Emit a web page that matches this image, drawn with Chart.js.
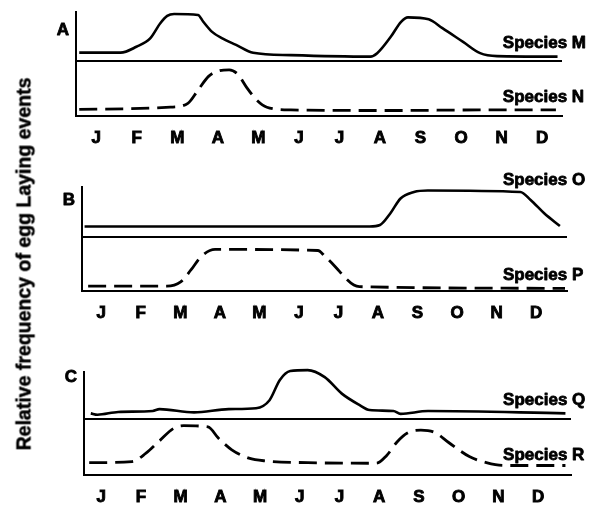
<!DOCTYPE html>
<html>
<head>
<meta charset="utf-8">
<script src="https://cdn.jsdelivr.net/npm/chart.js@4"></script>
<style>
  body { margin: 0; background: #fff; }
  #wrap { position: relative; width: 589px; height: 506px; overflow: hidden; }
  canvas { position: absolute; left: 0; top: 0; }
  #ytitle {
    position: absolute; left: 24px; top: 264px;
    transform: translate(-50%, -50%) rotate(-90deg);
    white-space: nowrap;
    font: bold 19.5px "Liberation Sans", Arial, sans-serif;
    -webkit-text-stroke: 0.5px #000;
    color: #000;
  }
</style>
</head>
<body>
<div id="wrap">
  <canvas id="panelA" width="589" height="506"></canvas>
  <canvas id="panelB" width="589" height="506"></canvas>
  <canvas id="panelC" width="589" height="506"></canvas>
  <div id="ytitle">Relative frequency of egg Laying events</div>
</div>
<script>
const months = ["J", "F", "M", "A", "M", "J", "J", "A", "S", "O", "N", "D"];

// [month (J = 1 ... D = 12), relative frequency of egg laying]
const speciesM = [[0.58, 1.7], [1.6, 1.7], [1.99, 2.9], [2.33, 4.6], [2.58, 7.7], [2.75, 9.2], [2.92, 9.6],
  [3.51, 9.4], [3.64, 8.0], [3.85, 6.0], [4.11, 4.6], [4.45, 3.3], [4.87, 1.7], [5.8, 1.2], [7.76, 0.9],
  [7.93, 1.6], [8.27, 5.0], [8.52, 8.0], [8.69, 8.9], [9.2, 8.5], [9.54, 6.7], [10.05, 3.9], [10.47, 1.6],
  [10.89, 1.0], [12.38, 0.9]];
const speciesN = [[0.58, 1.2], [2.83, 1.6], [3.26, 2.3], [3.51, 4.7], [3.77, 7.2], [4.02, 8.2], [4.28, 8.4],
  [4.49, 7.6], [4.7, 5.3], [4.96, 2.9], [5.21, 1.6], [5.8, 1.1], [8.35, 1.0], [10.47, 1.1], [12.34, 1.1]];
const speciesO = [[0.58, 2.1], [7.79, 2.1], [8.05, 2.4], [8.31, 4.7], [8.57, 7.7], [8.91, 9.0], [9.26, 9.3],
  [11.6, 9.0], [11.86, 7.4], [12.21, 4.7], [12.6, 2.2]];
const speciesP = [[0.67, 0.9], [2.66, 0.9], [3.01, 1.7], [3.27, 3.9], [3.53, 6.4], [3.88, 7.7], [6.48, 7.5],
  [6.66, 6.4], [6.92, 4.5], [7.18, 2.4], [7.39, 1.1], [7.53, 0.8], [12.73, 0.5]];
const speciesQ = [[0.74, 1.2], [0.91, 0.9], [1.43, 1.5], [2.3, 1.7], [2.47, 2.1], [3.34, 1.4], [4.21, 2.1],
  [4.9, 2.3], [5.24, 4.0], [5.5, 8.3], [5.76, 10.2], [6.2, 10.4], [6.63, 8.9], [7.06, 5.4], [7.5, 3.0],
  [7.76, 1.9], [8.36, 1.7], [8.54, 1.1], [9.23, 1.7], [12.69, 1.2]];
const speciesR = [[0.7, 2.2], [1.78, 2.4], [2.13, 3.9], [2.47, 6.1], [2.82, 8.3], [3.08, 8.8], [3.69, 8.6],
  [3.95, 6.6], [4.29, 4.5], [4.72, 3.0], [5.16, 2.5], [6.2, 2.2], [7.93, 2.1], [8.19, 3.5], [8.45, 5.9],
  [8.71, 7.5], [9.05, 8.0], [9.4, 7.6], [9.75, 5.8], [10.27, 3.3], [10.7, 2.2], [11.13, 1.7], [12.69, 1.7]];

Chart.defaults.font.family = '"Liberation Sans", Arial, sans-serif';
Chart.defaults.color = "#000";

const FONT_BOLD = '"Liberation Sans", Arial, sans-serif';
const X_AXIS_H = 30;

// species names + panel letter, placed through the chart's own scales
const panelText = {
  id: "panelText",
  afterDraw(chart, args, opts) {
    const { ctx, chartArea, scales } = chart;
    ctx.save();
    ctx.fillStyle = "#000";
    ctx.strokeStyle = "#000";
    ctx.lineWidth = 0.8;
    ctx.lineJoin = "round";
    ctx.font = "bold 17px " + FONT_BOLD;
    ctx.textAlign = "center";
    ctx.textBaseline = "middle";
    const lx = chartArea.left - 13, ly = chartArea.top + opts.letterDy;
    ctx.fillText(opts.letter, lx, ly);
    ctx.strokeText(opts.letter, lx, ly);
    ctx.textAlign = "left";
    ctx.textBaseline = "alphabetic";
    opts.names.forEach(n => {
      const x = scales.x.getPixelForValue(opts.labelX);
      const y = scales[n.axis].getPixelForValue(n.y);
      ctx.fillText(n.text, x, y);
      ctx.strokeText(n.text, x, y);
    });
    ctx.restore();
  }
};

function series(points, dashed) {
  return {
    data: points.map(p => ({ x: p[0], y: p[1] })),
    borderColor: "#000",
    borderWidth: dashed ? 2.8 : 2.6,
    borderDash: dashed ? [18, 8] : [],
    pointRadius: 0,
    cubicInterpolationMode: "monotone",
    clip: false,
    fill: false
  };
}

function panel(id, p) {
  const upper = Object.assign(series(p.upper, false), { yAxisID: "yHigh" });
  const lower = Object.assign(series(p.lower, true), { yAxisID: "yLow" });
  new Chart(document.getElementById(id), {
    type: "line",
    data: { datasets: [upper, lower] },
    options: {
      responsive: false,
      animation: false,
      layout: {
        padding: { left: p.left, top: p.top, right: 589 - p.right, bottom: 506 - p.bottom - X_AXIS_H }
      },
      plugins: {
        legend: { display: false },
        tooltip: { enabled: false },
        panelText: {
          letter: p.letter, letterDy: p.letterDy, labelX: p.labelX,
          names: p.names
        }
      },
      scales: {
        x: {
          type: "linear",
          min: p.xMin,
          max: p.xMax,
          afterBuildTicks: s => { s.ticks = months.map((m, i) => ({ value: i + 1 })); },
          afterFit: s => { s.height = X_AXIS_H; },
          ticks: {
            callback: v => months[v - 1],
            font: { size: 17, weight: "bold" },
            textStrokeColor: "#000",
            textStrokeWidth: 0.9,
            padding: 12,
            maxRotation: 0,
            autoSkip: false
          },
          grid: { display: false, drawTicks: false },
          border: { display: true, color: "#000", width: 2 }
        },
        yLow: {
          type: "linear",
          position: "left",
          stack: "panel",
          stackWeight: p.bottom - p.sep,
          min: 0,
          max: 10,
          afterFit: s => { s.width = 0; },
          ticks: { display: false },
          grid: { display: false, drawTicks: false },
          border: { display: true, color: "#000", width: 2 }
        },
        yHigh: {
          type: "linear",
          position: "left",
          stack: "panel",
          stackWeight: p.sep - p.top,
          min: 0,
          max: 10,
          afterFit: s => { s.width = 0; },
          afterBuildTicks: s => { s.ticks = [{ value: 0 }]; },
          ticks: { display: false },
          grid: { display: true, drawTicks: false, color: "#000", lineWidth: 2 },
          border: { display: true, color: "#000", width: 2 }
        }
      }
    },
    plugins: [panelText]
  });
}

panel("panelA", {
  letter: "A", letterDy: 18, upper: speciesM, lower: speciesN,
  left: 76, top: 12, right: 562, bottom: 116, sep: 61, xMin: 0.5, xMax: 12.49,
  labelX: 11.03,
  names: [{ text: "Species M", axis: "yHigh", y: 2.65 }, { text: "Species N", axis: "yLow", y: 2.55 }]
});
panel("panelB", {
  letter: "B", letterDy: 13, upper: speciesO, lower: speciesP,
  left: 82, top: 187, right: 567, bottom: 291, sep: 237, xMin: 0.515, xMax: 12.78,
  labelX: 11.16,
  names: [{ text: "Species O", axis: "yHigh", y: 10.4 }, { text: "Species P", axis: "yLow", y: 2.04 }]
});
panel("panelC", {
  letter: "C", letterDy: 5, upper: speciesQ, lower: speciesR,
  left: 84, top: 372, right: 571, bottom: 475, sep: 419, xMin: 0.569, xMax: 12.83,
  labelX: 11.12,
  names: [{ text: "Species Q", axis: "yHigh", y: 2.98 }, { text: "Species R", axis: "yLow", y: 2.7 }]
});
</script>
</body>
</html>
